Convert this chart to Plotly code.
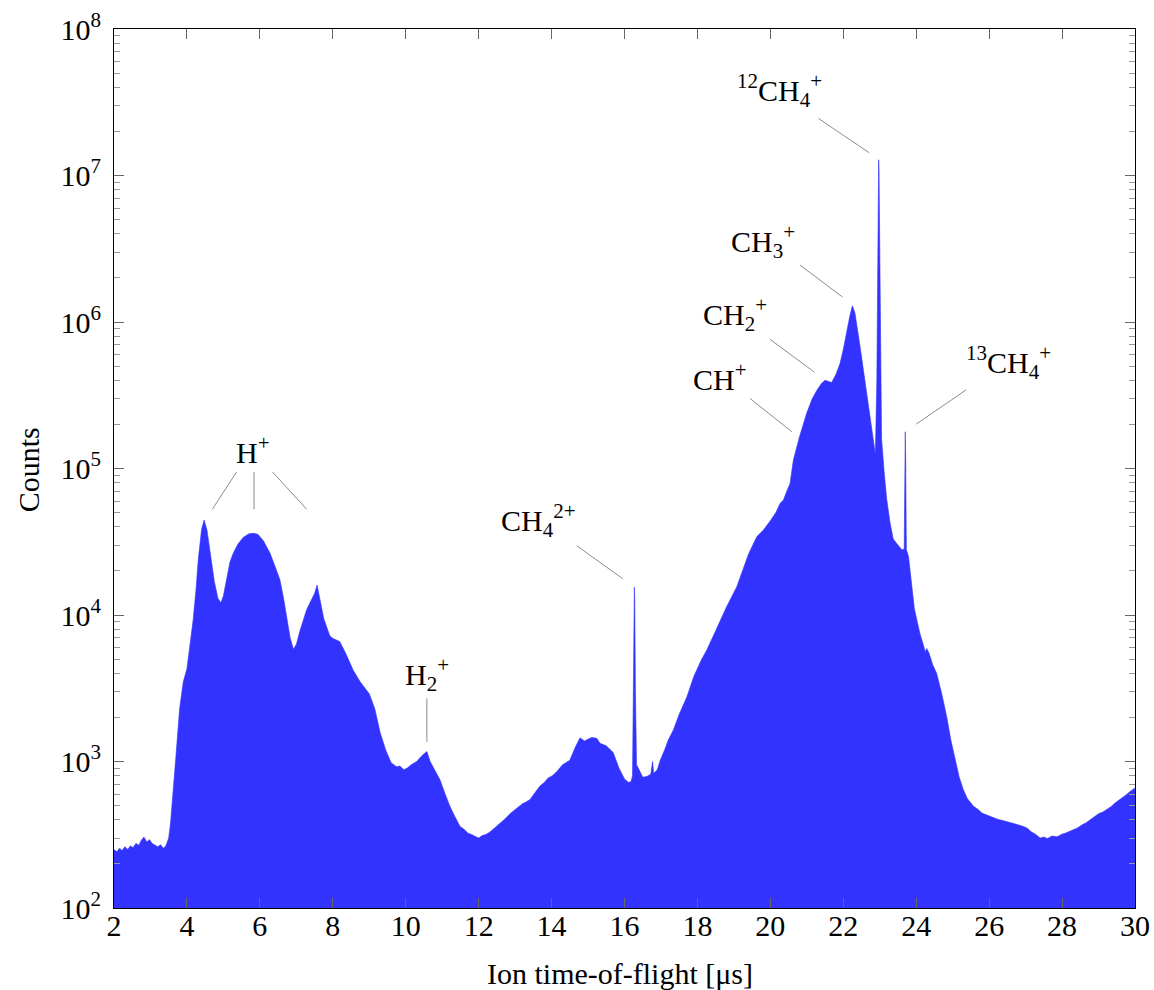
import plotly.graph_objects as go
import math

# ---- data ----
tof_us = [
    2.0, 2.08, 2.15, 2.22, 2.3, 2.38, 2.45, 2.52, 2.6, 2.68, 2.75, 2.82, 2.9, 2.97, 3.05, 3.12, 3.2, 3.28,
    3.35, 3.42, 3.5, 3.55, 3.6, 3.7, 3.8,
    3.9, 4.0, 4.1, 4.17, 4.25, 4.31, 4.4, 4.47, 4.55, 4.65, 4.75, 4.85, 4.93, 5.0, 5.09, 5.18, 5.27, 5.4,
    5.55, 5.7, 5.84, 5.95, 6.1, 6.28, 6.4, 6.55, 6.65, 6.74, 6.83, 6.92, 7.0, 7.1, 7.2, 7.28, 7.4, 7.5,
    7.57, 7.65, 7.75, 7.83, 7.92, 8.01, 8.19, 8.35, 8.56, 8.75, 9.0, 9.15, 9.3, 9.45, 9.6, 9.75, 9.84,
    9.95, 10.05, 10.15, 10.3, 10.45, 10.58, 10.67, 10.8, 10.94, 11.08, 11.22, 11.35, 11.49, 11.6, 11.7,
    11.8, 11.9, 12.0, 12.1, 12.2, 12.31, 12.45, 12.6, 12.72, 12.86, 13.0, 13.1, 13.2, 13.3, 13.41, 13.55,
    13.68, 13.8, 13.9, 14.02, 14.14, 14.3, 14.5, 14.65, 14.78, 14.9, 15.0, 15.1, 15.24,
    15.33, 15.5, 15.69, 15.85, 16.0, 16.11, 16.18, 16.22, 16.24, 16.26, 16.27, 16.28, 16.3, 16.33, 16.4, 16.5, 16.61,
    16.72, 16.77, 16.8, 16.9, 16.98, 17.1, 17.2, 17.34, 17.5, 17.71, 17.9, 18.1, 18.26, 18.5, 18.8,
    19.08, 19.2, 19.4, 19.63, 19.81, 20.0, 20.15, 20.27, 20.36, 20.45, 20.54, 20.63, 20.8, 21.0, 21.15,
    21.27, 21.4, 21.5, 21.6, 21.68, 21.8, 21.91, 22.0, 22.1, 22.18, 22.25, 22.32, 22.46, 22.6, 22.73,
    22.82, 22.88, 22.92, 22.94, 22.96, 22.97, 22.98, 23.0, 23.02, 23.05, 23.12, 23.19, 23.28, 23.37, 23.5, 23.6,
    23.67, 23.69, 23.7, 23.71, 23.73, 23.79, 23.95, 24.1, 24.2, 24.25, 24.29, 24.35, 24.45, 24.56,
    24.7, 24.84, 24.95, 25.07, 25.18, 25.29, 25.4, 25.57, 25.7, 25.8, 25.92, 26.03, 26.15, 26.25, 26.37,
    26.48, 26.6, 26.7, 26.82, 26.94, 27.05, 27.15, 27.28, 27.4, 27.5, 27.6, 27.72, 27.86, 27.98, 28.1,
    28.2, 28.31, 28.42, 28.55, 28.66, 28.77, 28.88, 29.0, 29.12, 29.23, 29.34, 29.45, 29.57, 29.68,
    29.78, 29.85, 29.93, 30.0,
]
counts = [
    250, 242, 256, 247, 262, 251, 266, 258, 276, 268, 290, 305, 282, 293, 276, 268, 262, 270,
    256, 265, 300, 380, 520, 1100, 2300,
    3500, 4300, 6500, 9250, 15000, 23700, 38000, 44500, 38000, 25000, 17000, 13000, 12100, 13500, 18200, 23000, 26400, 30500,
    34000, 35800, 36100, 35500, 32000, 26400, 22000, 17400, 13000, 9250, 7000, 5830, 6300, 7800, 9300, 10800, 12500, 14000,
    16000, 12500, 9500, 8300, 7200, 6900, 6600, 5500, 4200, 3500, 2900, 2300, 1570, 1200, 980, 920, 930,
    880, 905, 950, 1000, 1100, 1170, 1000, 860, 750, 600, 490, 420, 360, 345, 325,
    318, 307, 300, 312, 318, 330, 355, 378, 405, 440, 470, 492, 515, 530, 550, 615,
    680, 720, 770, 800, 850, 950, 1020, 1250, 1450, 1380, 1420, 1460, 1440,
    1330, 1280, 1150, 900, 760, 720, 730, 800, 3000, 13000, 15500, 13000, 3000, 950, 880, 780, 790,
    820, 1000, 830, 880, 1020, 1200, 1400, 1640, 2100, 2760, 3800, 4900, 5800, 7800, 11400,
    15600, 19000, 26000, 34300, 38000, 44000, 50000, 58000, 61000, 70000, 79000, 114000, 165000, 240000, 300000,
    340000, 380000, 400000, 390000, 386000, 440000, 520000, 650000, 880000, 1100000, 1290000, 1150000, 680000, 380000, 240000,
    160000, 125000, 400000, 3000000, 11000000, 12800000, 11000000, 3000000, 500000, 160000, 95000, 62000, 43000, 33000, 30000, 28000,
    28000, 120000, 178000, 120000, 28000, 25000, 11000, 7500, 6200, 5600, 5900, 5500, 4600, 4000,
    2900, 2000, 1400, 1020, 780, 645, 560, 495, 470, 445, 432, 420, 410, 402, 396,
    390, 380, 376, 368, 360, 350, 332, 318, 300, 305, 298, 310, 306, 318, 325,
    332, 340, 352, 370, 382, 400, 418, 440, 452, 470, 492, 520, 545, 575,
    598, 620, 640, 660,
]

x_ticks = [2, 4, 6, 8, 10, 12, 14, 16, 18, 20, 22, 24, 26, 28, 30]
y_tick_exponents = [2, 3, 4, 5, 6, 7, 8]

# peak labels: text, label position (x, counts), leader lines [(x0, c0, x1, c1), ...]
labels = [
    ("H<sup>+</sup>", 5.81, 1.34e5, [(5.365, 9.5e4, 4.696, 5.27e4), (5.84, 9.5e4, 5.84, 5.27e4), (6.342, 9.5e4, 7.285, 5.27e4)]),
    ("H<sub>2</sub><sup>+</sup>", 10.58, 3.95e3, [(10.58, 2.70e3, 10.58, 1.36e3)]),
    ("CH<sub>4</sub><sup>2+</sup>", 13.63, 4.45e4, [(14.69, 2.97e4, 15.95, 1.77e4)]),
    ("CH<sup>+</sup>", 18.62, 4.22e5, [(19.44, 3.01e5, 20.59, 1.78e5)]),
    ("CH<sub>2</sub><sup>+</sup>", 19.03, 1.12e6, [(19.99, 7.62e5, 21.21, 4.54e5)]),
    ("CH<sub>3</sub><sup>+</sup>", 19.80, 3.52e6, [(20.81, 2.45e6, 21.98, 1.48e6)]),
    ("<sup>12</sup>CH<sub>4</sub><sup>+</sup>", 20.24, 3.78e7, [(21.32, 2.45e7, 22.71, 1.43e7)]),
    ("<sup>13</sup>CH<sub>4</sub><sup>+</sup>", 26.52, 5.33e5, [(25.37, 3.44e5, 24.0, 2.01e5)]),
]

FONT = "Liberation Serif"
FS = 30
BLUE = "rgb(51,51,255)"

fig = go.Figure()
fig.add_trace(go.Scatter(
    x=tof_us, y=counts, mode="lines", fill="tozeroy",
    line=dict(color=BLUE, width=0.6), fillcolor=BLUE, hoverinfo="skip", showlegend=False,
))

annotations = []
for text, lx, ly, lines in labels:
    annotations.append(dict(x=lx, y=math.log10(ly), xref="x", yref="y", text=text, showarrow=False,
                            font=dict(family=FONT, size=FS, color="black"),
                            xanchor="center", yanchor="middle"))
    for (x0, c0, x1, c1) in lines:
        fig.add_trace(go.Scatter(x=[x0, x1], y=[c0, c1], mode="lines",
                                 line=dict(color="#8c8c8c", width=1), hoverinfo="skip", showlegend=False))

annotations.append(dict(x=0.4956, y=-0.0745, xref="paper", yref="paper", text="Ion time-of-flight [μs]",
                        showarrow=False, font=dict(family=FONT, size=FS, color="black"),
                        xanchor="center", yanchor="middle"))
annotations.append(dict(x=-0.0842, y=0.498, xref="paper", yref="paper", text="Counts", textangle=-90,
                        showarrow=False, font=dict(family=FONT, size=FS, color="black"),
                        xanchor="center", yanchor="middle"))

fig.update_layout(
    width=1154, height=990,
    margin=dict(l=114, r=19, t=29, b=82, autoexpand=False),
    paper_bgcolor="white", plot_bgcolor="white",
    font=dict(family=FONT, size=FS, color="black"),
    annotations=annotations,
    xaxis=dict(
        range=[2, 30], tickvals=x_ticks, ticktext=[str(v) for v in x_ticks],
        ticks="inside", ticklen=10, tickcolor="#666666", tickwidth=1,
        showline=True, linecolor="black", linewidth=1, mirror="allticks",
        showgrid=False, zeroline=False, ticklabelstandoff=-9, automargin=False,
        ticklabeloverflow="allow",
        tickfont=dict(family=FONT, size=FS),
    ),
    yaxis=dict(
        type="log", range=[2, 8],
        tickvals=[10 ** e for e in y_tick_exponents],
        ticktext=["10<sup>%d</sup>" % e for e in y_tick_exponents],
        ticks="inside", ticklen=10, tickcolor="#666666", tickwidth=1,
        minor=dict(ticks="inside", ticklen=6, tickcolor="#999999", tickwidth=1, dtick="D1", showgrid=False),
        showline=True, linecolor="black", linewidth=1, mirror="allticks",
        showgrid=False, zeroline=False, ticklabelstandoff=6, automargin=False,
        ticklabeloverflow="allow",
        tickfont=dict(family=FONT, size=FS),
    ),
)

fig.write_html("out.html")
